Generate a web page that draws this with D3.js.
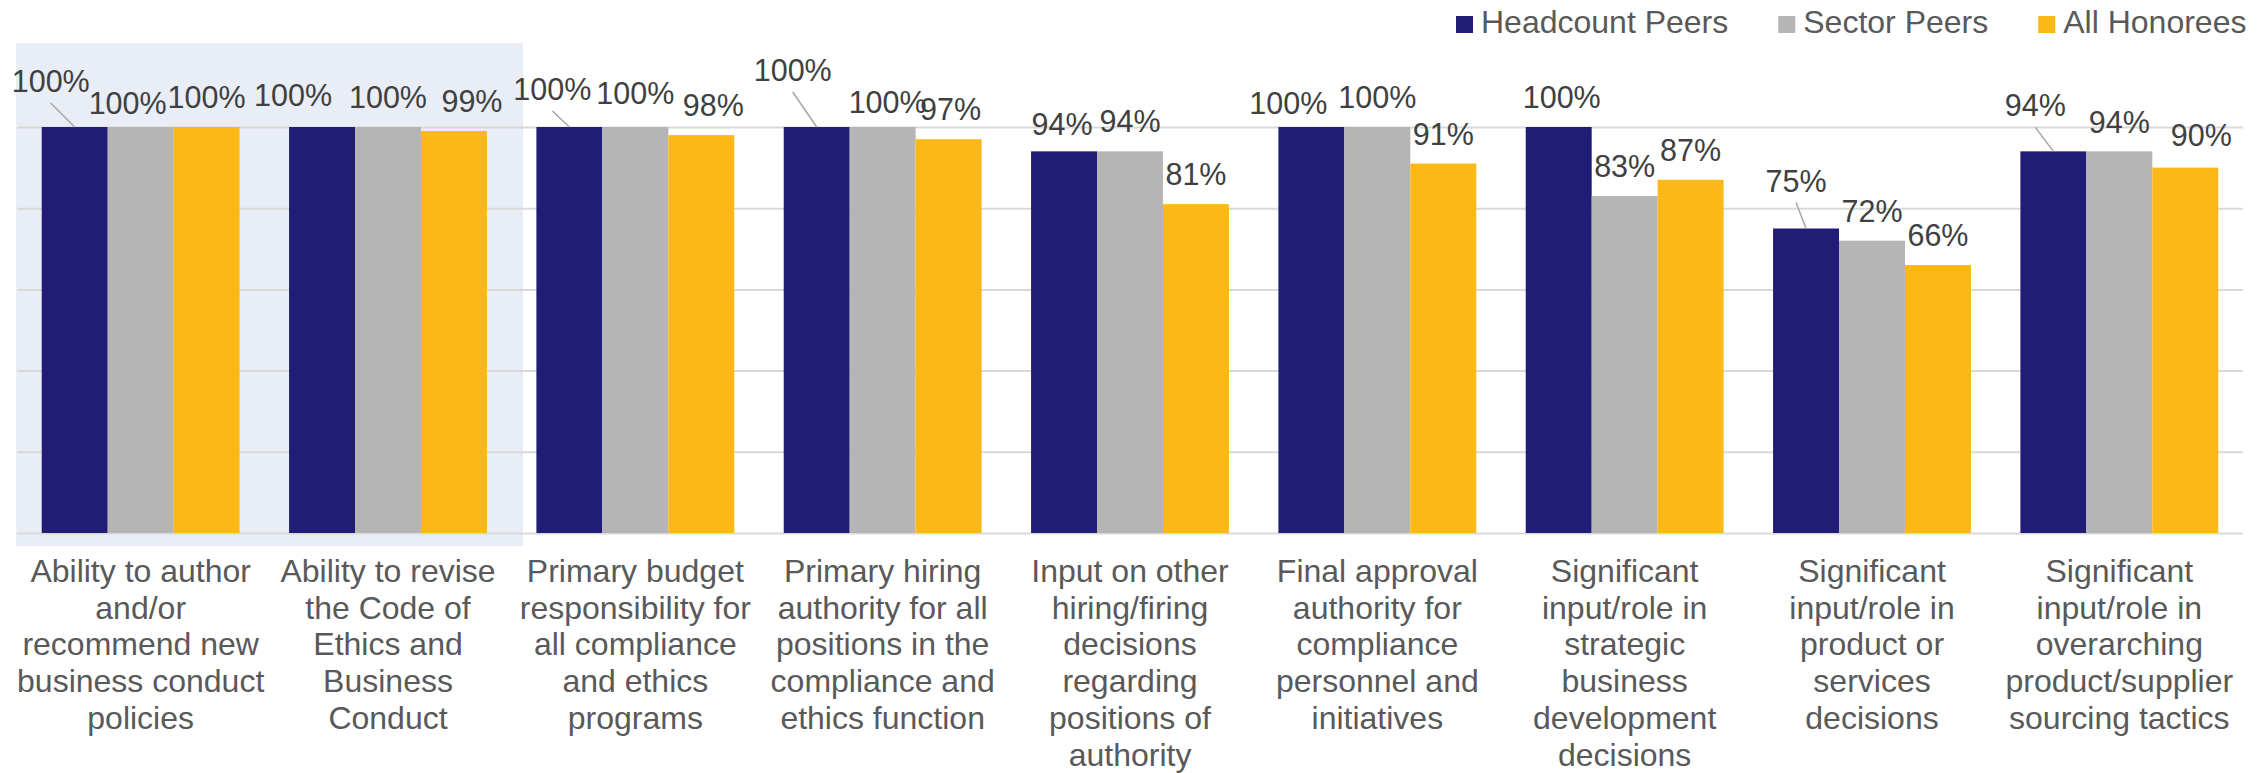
<!DOCTYPE html>
<html>
<head>
<meta charset="utf-8">
<script src="https://cdn.jsdelivr.net/npm/d3@7"></script>
<style>
  html, body { margin: 0; padding: 0; background: #fff; }
  svg { display: block; font-family: "Liberation Sans", Arial, sans-serif; }
</style>
</head>
<body>
<svg id="chart" width="2264" height="773"></svg>
<script>
// category labels, already broken into lines as in the original
const categories = [
  ["Ability to author", "and/or", "recommend new", "business conduct", "policies"],
  ["Ability to revise", "the Code of", "Ethics and", "Business", "Conduct"],
  ["Primary budget", "responsibility for", "all compliance", "and ethics", "programs"],
  ["Primary hiring", "authority for all", "positions in the", "compliance and", "ethics function"],
  ["Input on other", "hiring/firing", "decisions", "regarding", "positions of", "authority"],
  ["Final approval", "authority for", "compliance", "personnel and", "initiatives"],
  ["Significant", "input/role in", "strategic", "business", "development", "decisions"],
  ["Significant", "input/role in", "product or", "services", "decisions"],
  ["Significant", "input/role in", "overarching", "product/supplier", "sourcing tactics"]
];

const seriesNames = ["Headcount Peers", "Sector Peers", "All Honorees"];
const headcountPeers = [100, 100, 100, 100, 94, 100, 100, 75, 94];
const sectorPeers = [100, 100, 100, 100, 94, 100, 83, 72, 94];
const allHonorees = [100, 99, 98, 97, 81, 91, 87, 66, 90];
const yTicks = [0, 20, 40, 60, 80, 100];

// layout only: manual data-label nudges [dx, dy, leader line]
const labelNudge = [
  [[-24, -16, 1], [-13, 6, 0], [0, 0, 0]],
  [[-29, -2, 0], [0, 0, 0], [18, 0, 0]],
  [[-17, -8, 1], [0, -4, 0], [12, 0, 0]],
  [[-24, -27, 1], [5, 5, 0], [2, 0, 0]],
  [[-2, 3, 0], [0, 0, 0], [0, 0, 0]],
  [[-23, 6, 0], [0, 0, 0], [0, 0, 0]],
  [[3, 0, 0], [0, 0, 0], [0, 0, 0]],
  [[-10, -18, 1], [0, 0, 0], [0, 0, 0]],
  [[-18, -16, 1], [0, 1, 0], [16, -3, 0]]
];

const colors = ["#211d77", "#b5b5b5", "#fcb817"];
const series = [headcountPeers, sectorPeers, allHonorees];

const svg = d3.select("#chart");
const m = { left: 17, right: 2243, top: 127, bottom: 533 };

const x0 = d3.scaleBand()
  .domain(d3.range(categories.length))
  .range([m.left, m.right])
  .paddingInner(0.2)
  .paddingOuter(0.1);

const x1 = d3.scaleBand()
  .domain(d3.range(series.length))
  .range([0, x0.bandwidth()]);

const y = d3.scaleLinear().domain([0, 100]).range([m.bottom, m.top]);

// highlighted first two categories
svg.append("rect")
  .attr("x", 16)
  .attr("y", 43)
  .attr("width", 507)
  .attr("height", 503)
  .attr("fill", "#e9edf6");

// gridlines
const grid = svg.append("g")
  .attr("transform", `translate(${m.left},0)`)
  .call(d3.axisLeft(y).tickValues(yTicks).tickSize(-(m.right - m.left)).tickFormat(""));
grid.select(".domain").remove();
grid.selectAll(".tick line")
  .attr("stroke", "#d9d9d9")
  .attr("stroke-width", 2);

// bars
const groups = svg.selectAll(".group")
  .data(categories)
  .enter()
  .append("g")
  .attr("class", "group")
  .attr("transform", (d, i) => `translate(${x0(i)},0)`);

groups.selectAll("rect")
  .data((d, i) => series.map((s, j) => ({ v: s[i], j: j, i: i })))
  .enter()
  .append("rect")
  .attr("x", d => x1(d.j))
  .attr("y", d => y(d.v))
  .attr("width", x1.bandwidth())
  .attr("height", d => y(0) - y(d.v))
  .attr("fill", d => colors[d.j]);

// data labels + leader lines
const labelData = [];
categories.forEach((c, i) => {
  series.forEach((s, j) => {
    const cx = x0(i) + x1(j) + x1.bandwidth() / 2;
    const n = labelNudge[i][j];
    labelData.push({
      v: s[i], cx: cx, barTop: y(s[i]),
      lx: cx + n[0], ly: y(s[i]) - 19 + n[1], leader: n[2]
    });
  });
});

svg.selectAll(".leader")
  .data(labelData.filter(d => d.leader))
  .enter()
  .append("line")
  .attr("class", "leader")
  .attr("x1", d => d.lx)
  .attr("y1", d => d.ly + 11)
  .attr("x2", d => d.cx)
  .attr("y2", d => d.barTop)
  .attr("stroke", "#a6a6a6")
  .attr("stroke-width", 1.5);

svg.selectAll(".dlabel")
  .data(labelData)
  .enter()
  .append("text")
  .attr("class", "dlabel")
  .attr("x", d => d.lx)
  .attr("y", d => d.ly)
  .attr("text-anchor", "middle")
  .style("font-size", "30.5px")
  .style("fill", "#404040")
  .text(d => d.v + "%");

// category labels
const catText = svg.selectAll(".cat")
  .data(categories)
  .enter()
  .append("text")
  .attr("class", "cat")
  .attr("text-anchor", "middle")
  .style("font-size", "32px")
  .style("fill", "#595959")
  .attr("transform", (d, i) => `translate(${x0(i) + x0.bandwidth() / 2},582)`);

catText.selectAll("tspan")
  .data(d => d)
  .enter()
  .append("tspan")
  .attr("x", 0)
  .attr("y", (d, k) => k * 36.7)
  .text(d => d);

// legend
const legend = svg.append("g").attr("class", "legend");
let legX = 1456;
seriesNames.forEach((name, j) => {
  legend.append("rect")
    .attr("x", legX)
    .attr("y", 16)
    .attr("width", 17)
    .attr("height", 17)
    .attr("fill", colors[j]);
  const t = legend.append("text")
    .attr("x", legX + 25)
    .attr("y", 33)
    .style("font-size", "32px")
    .style("fill", "#595959")
    .text(name);
  legX += 25 + t.node().getComputedTextLength() + 50;
});
</script>
</body>
</html>
